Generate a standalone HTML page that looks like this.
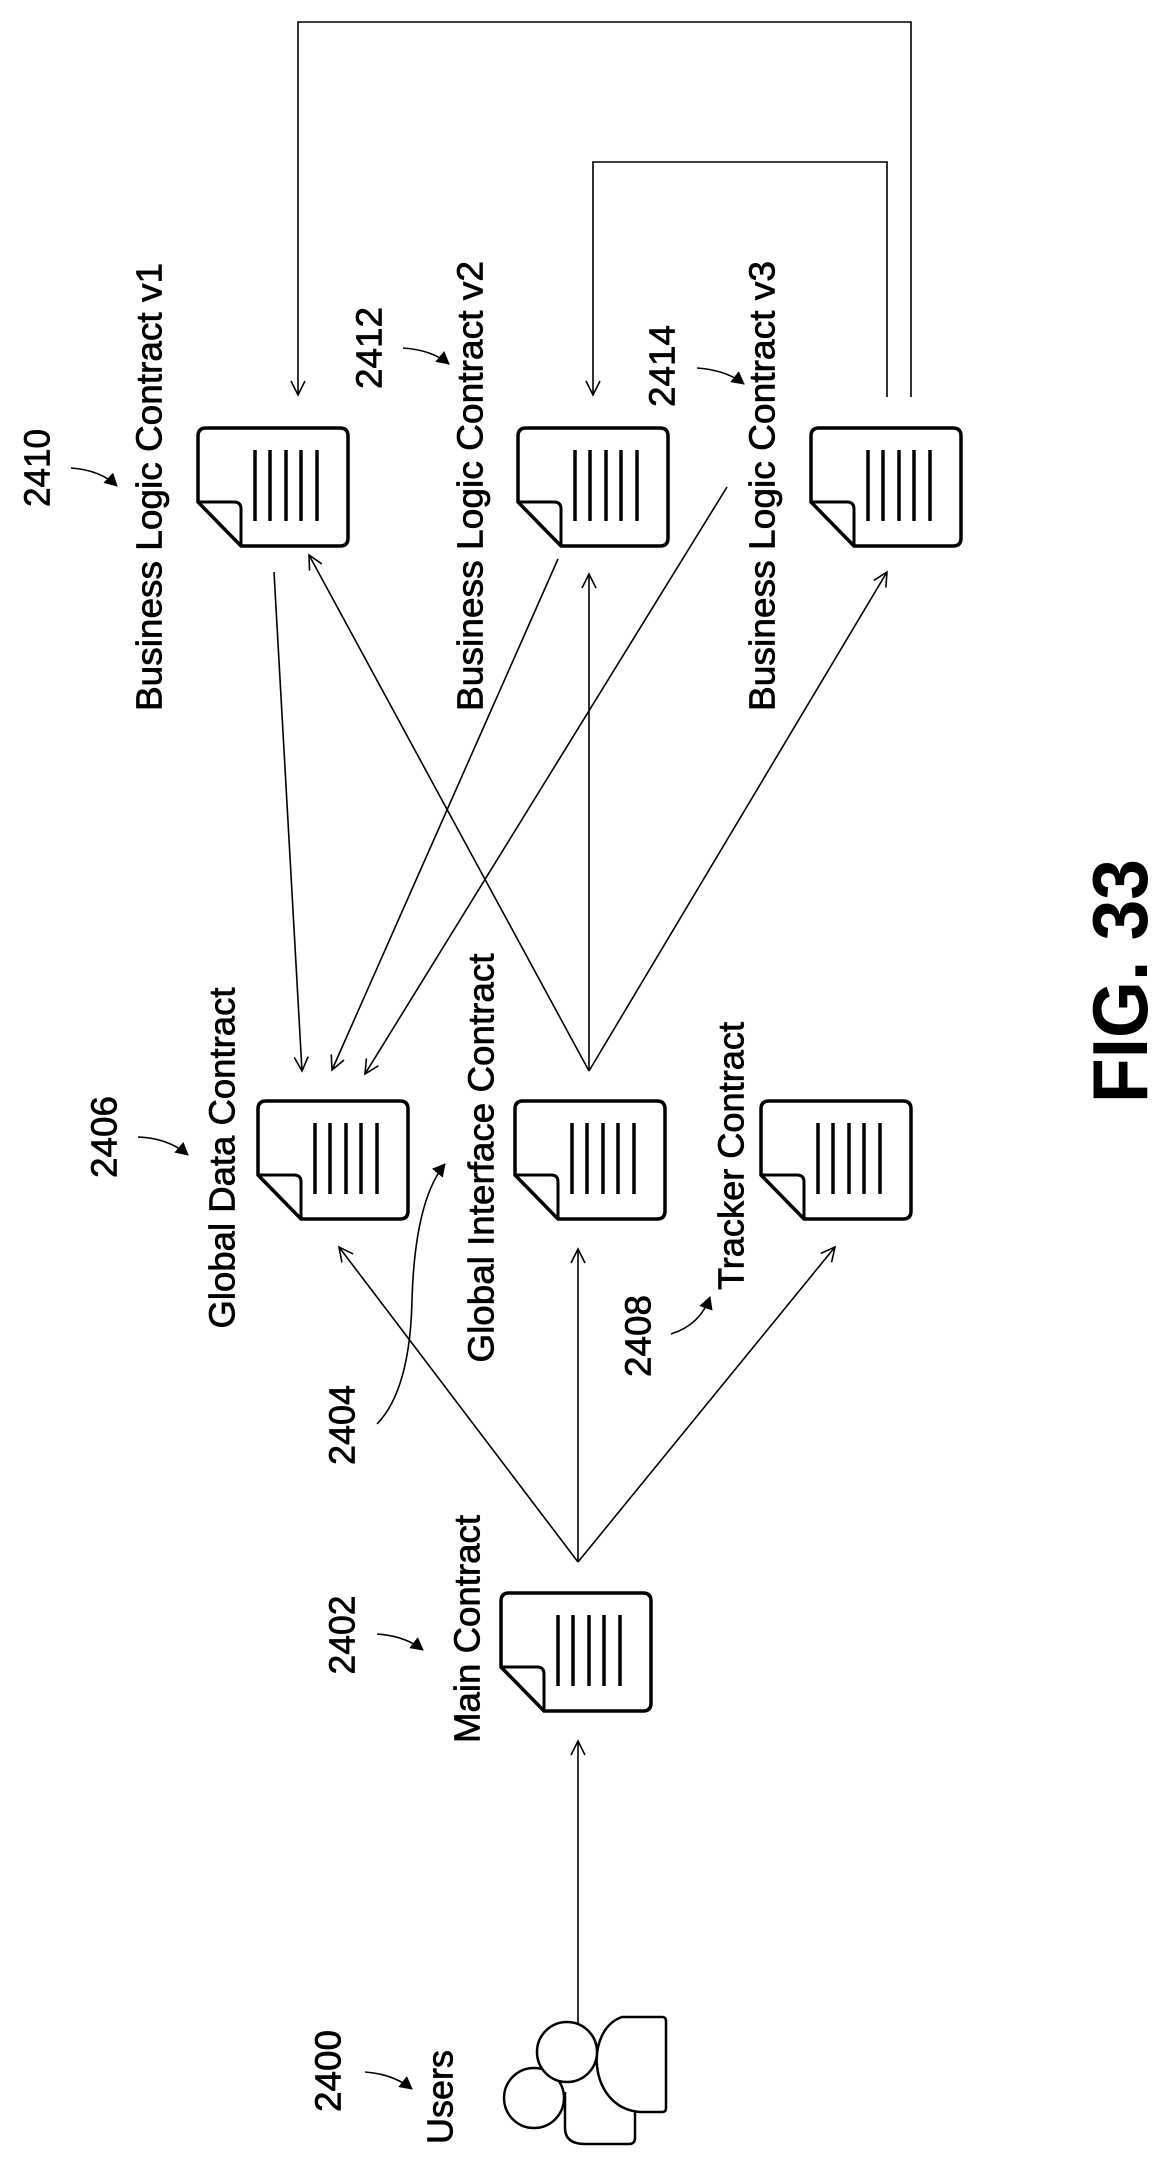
<!DOCTYPE html>
<html><head><meta charset="utf-8"><style>
html,body{margin:0;padding:0;background:#fff;}
svg{display:block;}
text{font-family:"Liberation Sans",Arial,sans-serif;fill:#000;}
</style></head><body>
<svg width="1163" height="2164" viewBox="0 0 1163 2164" xmlns="http://www.w3.org/2000/svg">
<defs>
<marker id="v" markerUnits="userSpaceOnUse" markerWidth="20" markerHeight="20" refX="15" refY="8" orient="auto">
<path d="M1,1 L15,8 L1,15" fill="none" stroke="#000" stroke-width="1.6"/>
</marker>
<marker id="t" markerUnits="userSpaceOnUse" markerWidth="16" markerHeight="16" refX="12" refY="7" orient="auto">
<path d="M0,0 L13,7 L0,14 Z" fill="#000"/>
</marker>
<g id="doc">
<path d="M43,118 L142,118 Q150,118 150,110 L150,8 Q150,0 142,0 L8,0 Q0,0 0,8 L0,74 L43,118 Z" fill="#fff" stroke="#000" stroke-width="3.5"/>
<path d="M0,74 L36,74 Q43,74 43,81 L43,118" fill="none" stroke="#000" stroke-width="3"/>
<g stroke="#000" stroke-width="3.5">
<line x1="57" y1="22" x2="57" y2="93"/><line x1="72" y1="22" x2="72" y2="93"/><line x1="88" y1="22" x2="88" y2="93"/><line x1="103" y1="22" x2="103" y2="93"/><line x1="119" y1="22" x2="119" y2="93"/>
</g>
</g>
</defs>

<g fill="none" stroke="#000" stroke-width="1.6">
<!-- loops -->
<polyline points="911,397 911,22 298,22 298,395" marker-end="url(#v)"/>
<polyline points="887,397 887,162 593,162 593,395" marker-end="url(#v)"/>
<!-- BLC -> GDC -->
<line x1="274" y1="572" x2="302" y2="1071" marker-end="url(#v)"/>
<line x1="558" y1="559" x2="332" y2="1070" marker-end="url(#v)"/>
<line x1="727" y1="487" x2="365" y2="1074" marker-end="url(#v)"/>
<!-- GIC -> BLC -->
<line x1="589" y1="1071" x2="309" y2="555" marker-end="url(#v)"/>
<line x1="589" y1="1071" x2="589" y2="574" marker-end="url(#v)"/>
<line x1="589" y1="1071" x2="887" y2="572" marker-end="url(#v)"/>
<!-- Main fan -->
<line x1="578" y1="1562" x2="339" y2="1247" marker-end="url(#v)"/>
<line x1="578" y1="1562" x2="578" y2="1249" marker-end="url(#v)"/>
<line x1="578" y1="1562" x2="835" y2="1247" marker-end="url(#v)"/>
<!-- users -->
<line x1="578" y1="2028" x2="578" y2="1741" marker-end="url(#v)"/>
<!-- label arrows -->
<path d="M71,468 Q100,470 117,486" marker-end="url(#t)"/>
<path d="M403,348 Q432,350 449,364" marker-end="url(#t)"/>
<path d="M697,368 Q726,370 744,384" marker-end="url(#t)"/>
<path d="M138,1137 Q168,1138 188,1155" marker-end="url(#t)"/>
<path d="M377,1424 Q410,1390 412,1300 Q415,1200 445,1164" marker-end="url(#t)"/>
<path d="M671,1334 Q700,1325 710,1297" marker-end="url(#t)"/>
<path d="M377,1634 Q405,1636 423,1650" marker-end="url(#t)"/>
<path d="M365,2072 Q393,2074 412,2089" marker-end="url(#t)"/>
</g>

<use href="#doc" x="198" y="428"/>
<use href="#doc" x="518" y="428"/>
<use href="#doc" x="811" y="428"/>
<use href="#doc" x="258" y="1101"/>
<use href="#doc" x="515" y="1101"/>
<use href="#doc" x="761" y="1101"/>
<use href="#doc" x="501" y="1593"/>

<!-- users icon -->
<g fill="#fff" stroke="#000" stroke-width="2.5">
<path d="M565,2092 L565,2128 Q565,2144 585,2144 L629,2144 Q635,2144 635,2138 L635,2105"/>
<path d="M622,2017 L662,2017 Q666,2017 666,2021 L666,2108 Q666,2112 662,2112 L640,2112 C588,2108 584,2030 622,2017 Z"/>
<circle cx="534" cy="2098" r="30"/>
<circle cx="567" cy="2052" r="30"/>
</g>

<g font-size="36" stroke="#000" stroke-width="0.7">
<text transform="translate(149,487) rotate(-90)" text-anchor="middle" dominant-baseline="central" textLength="448" lengthAdjust="spacingAndGlyphs">Business Logic Contract v1</text>
<text transform="translate(470,486) rotate(-90)" text-anchor="middle" dominant-baseline="central" textLength="450" lengthAdjust="spacingAndGlyphs">Business Logic Contract v2</text>
<text transform="translate(762,486) rotate(-90)" text-anchor="middle" dominant-baseline="central" textLength="450" lengthAdjust="spacingAndGlyphs">Business Logic Contract v3</text>
<text transform="translate(222,1158) rotate(-90)" text-anchor="middle" dominant-baseline="central" textLength="341" lengthAdjust="spacingAndGlyphs">Global Data Contract</text>
<text transform="translate(481,1158) rotate(-90)" text-anchor="middle" dominant-baseline="central" textLength="409" lengthAdjust="spacingAndGlyphs">Global Interface Contract</text>
<text transform="translate(731,1156) rotate(-90)" text-anchor="middle" dominant-baseline="central" textLength="268" lengthAdjust="spacingAndGlyphs">Tracker Contract</text>
<text transform="translate(467,1629) rotate(-90)" text-anchor="middle" dominant-baseline="central" textLength="228" lengthAdjust="spacingAndGlyphs">Main Contract</text>
<text transform="translate(440,2097) rotate(-90)" text-anchor="middle" dominant-baseline="central" textLength="94" lengthAdjust="spacingAndGlyphs">Users</text>
<text transform="translate(37,468) rotate(-90)" text-anchor="middle" dominant-baseline="central" textLength="78" lengthAdjust="spacingAndGlyphs">2410</text>
<text transform="translate(369,348) rotate(-90)" text-anchor="middle" dominant-baseline="central" textLength="82" lengthAdjust="spacingAndGlyphs">2412</text>
<text transform="translate(662,366) rotate(-90)" text-anchor="middle" dominant-baseline="central" textLength="82" lengthAdjust="spacingAndGlyphs">2414</text>
<text transform="translate(104,1137) rotate(-90)" text-anchor="middle" dominant-baseline="central" textLength="82" lengthAdjust="spacingAndGlyphs">2406</text>
<text transform="translate(342,1425) rotate(-90)" text-anchor="middle" dominant-baseline="central" textLength="80" lengthAdjust="spacingAndGlyphs">2404</text>
<text transform="translate(638,1336) rotate(-90)" text-anchor="middle" dominant-baseline="central" textLength="82" lengthAdjust="spacingAndGlyphs">2408</text>
<text transform="translate(342,1635) rotate(-90)" text-anchor="middle" dominant-baseline="central" textLength="79" lengthAdjust="spacingAndGlyphs">2402</text>
<text transform="translate(328,2071) rotate(-90)" text-anchor="middle" dominant-baseline="central" textLength="82" lengthAdjust="spacingAndGlyphs">2400</text>
</g>
<text transform="translate(1120,981) rotate(-90)" text-anchor="middle" dominant-baseline="central" font-size="78" font-weight="bold" textLength="244" lengthAdjust="spacingAndGlyphs">FIG. 33</text>
</svg>
</body></html>
